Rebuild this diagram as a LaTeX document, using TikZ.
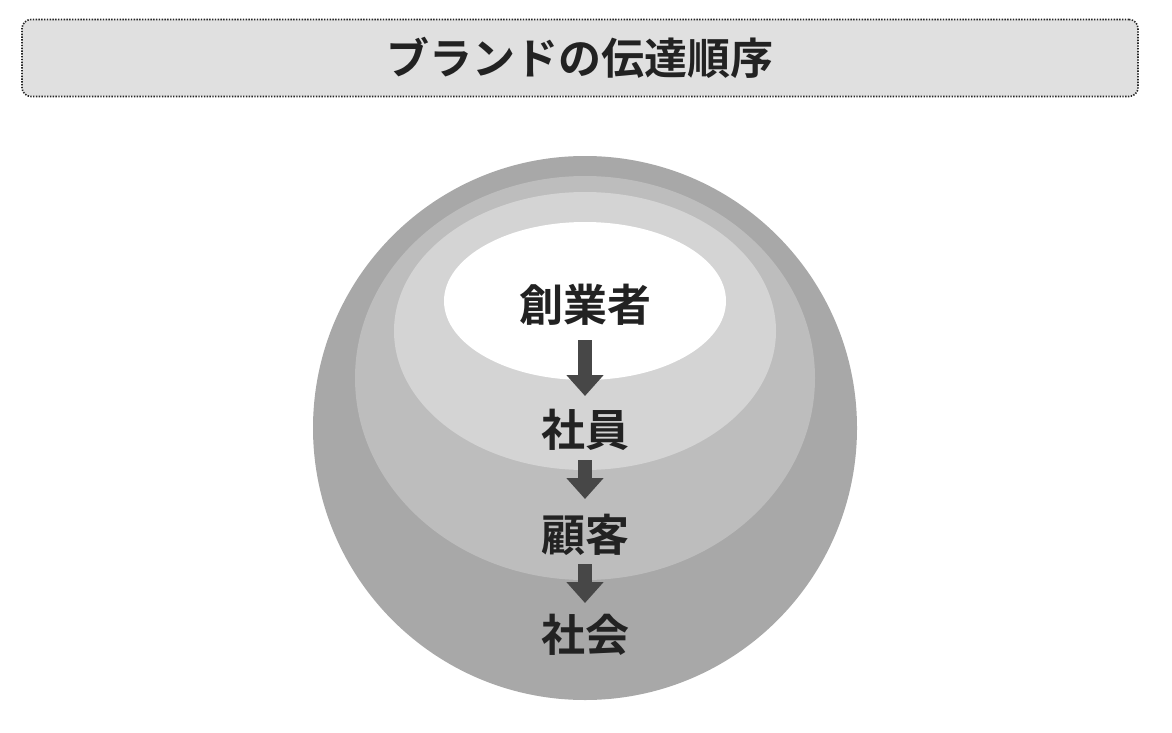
\documentclass[tikz,border=0pt]{standalone}
\usepackage{fontspec}
\newfontfamily\jp{Noto Sans CJK JP Bold}
\usetikzlibrary{arrows.meta}
\definecolor{c1}{HTML}{A8A8A8}
\definecolor{c2}{HTML}{BDBDBD}
\definecolor{c3}{HTML}{D4D4D4}
\definecolor{tb}{HTML}{E0E0E0}
\definecolor{ar}{HTML}{474747}
\definecolor{tx}{HTML}{222222}
\tikzset{lbl/.style={font=\jp\fontsize{44}{44}\selectfont, text=tx, inner sep=0pt},
 blk/.style={draw=ar, line width=14pt, -{Triangle[width=36pt,length=21pt]}}}
\begin{document}
\begin{tikzpicture}[x=1pt,y=-1pt]
\useasboundingbox (0,0) rectangle (1172,733);
\node[draw=black!85, dash pattern=on 1.4pt off 1.4pt, line width=1.6pt, fill=tb, rounded corners=9pt, minimum width=1116pt, minimum height=77pt] (title) at (580,58) {};
\node[font=\jp\fontsize{43}{43}\selectfont, text=tx, inner sep=0pt] (tt) at (580,58) {ブランドの伝達順序};
\fill[c1] (585,428) circle (272);
\fill[c2] (585,378) ellipse (230 and 202);
\fill[c3] (585,331) ellipse (191 and 139);
\fill[white] (585,301) ellipse (141 and 79);
\node[lbl] (a) at (585,305) {創業者};
\node[lbl] (b) at (585,430) {社員};
\node[lbl] (c) at (585,535) {顧客};
\node[lbl] (d) at (585,635) {社会};
\coordinate (a1s) at (585,340); \coordinate (a1e) at (585,396);
\coordinate (a2s) at (585,460); \coordinate (a2e) at (585,499);
\coordinate (a3s) at (585,564); \coordinate (a3e) at (585,603);
\draw[blk] (a1s) -- (a1e);
\draw[blk] (a2s) -- (a2e);
\draw[blk] (a3s) -- (a3e);
\end{tikzpicture}
\end{document}
